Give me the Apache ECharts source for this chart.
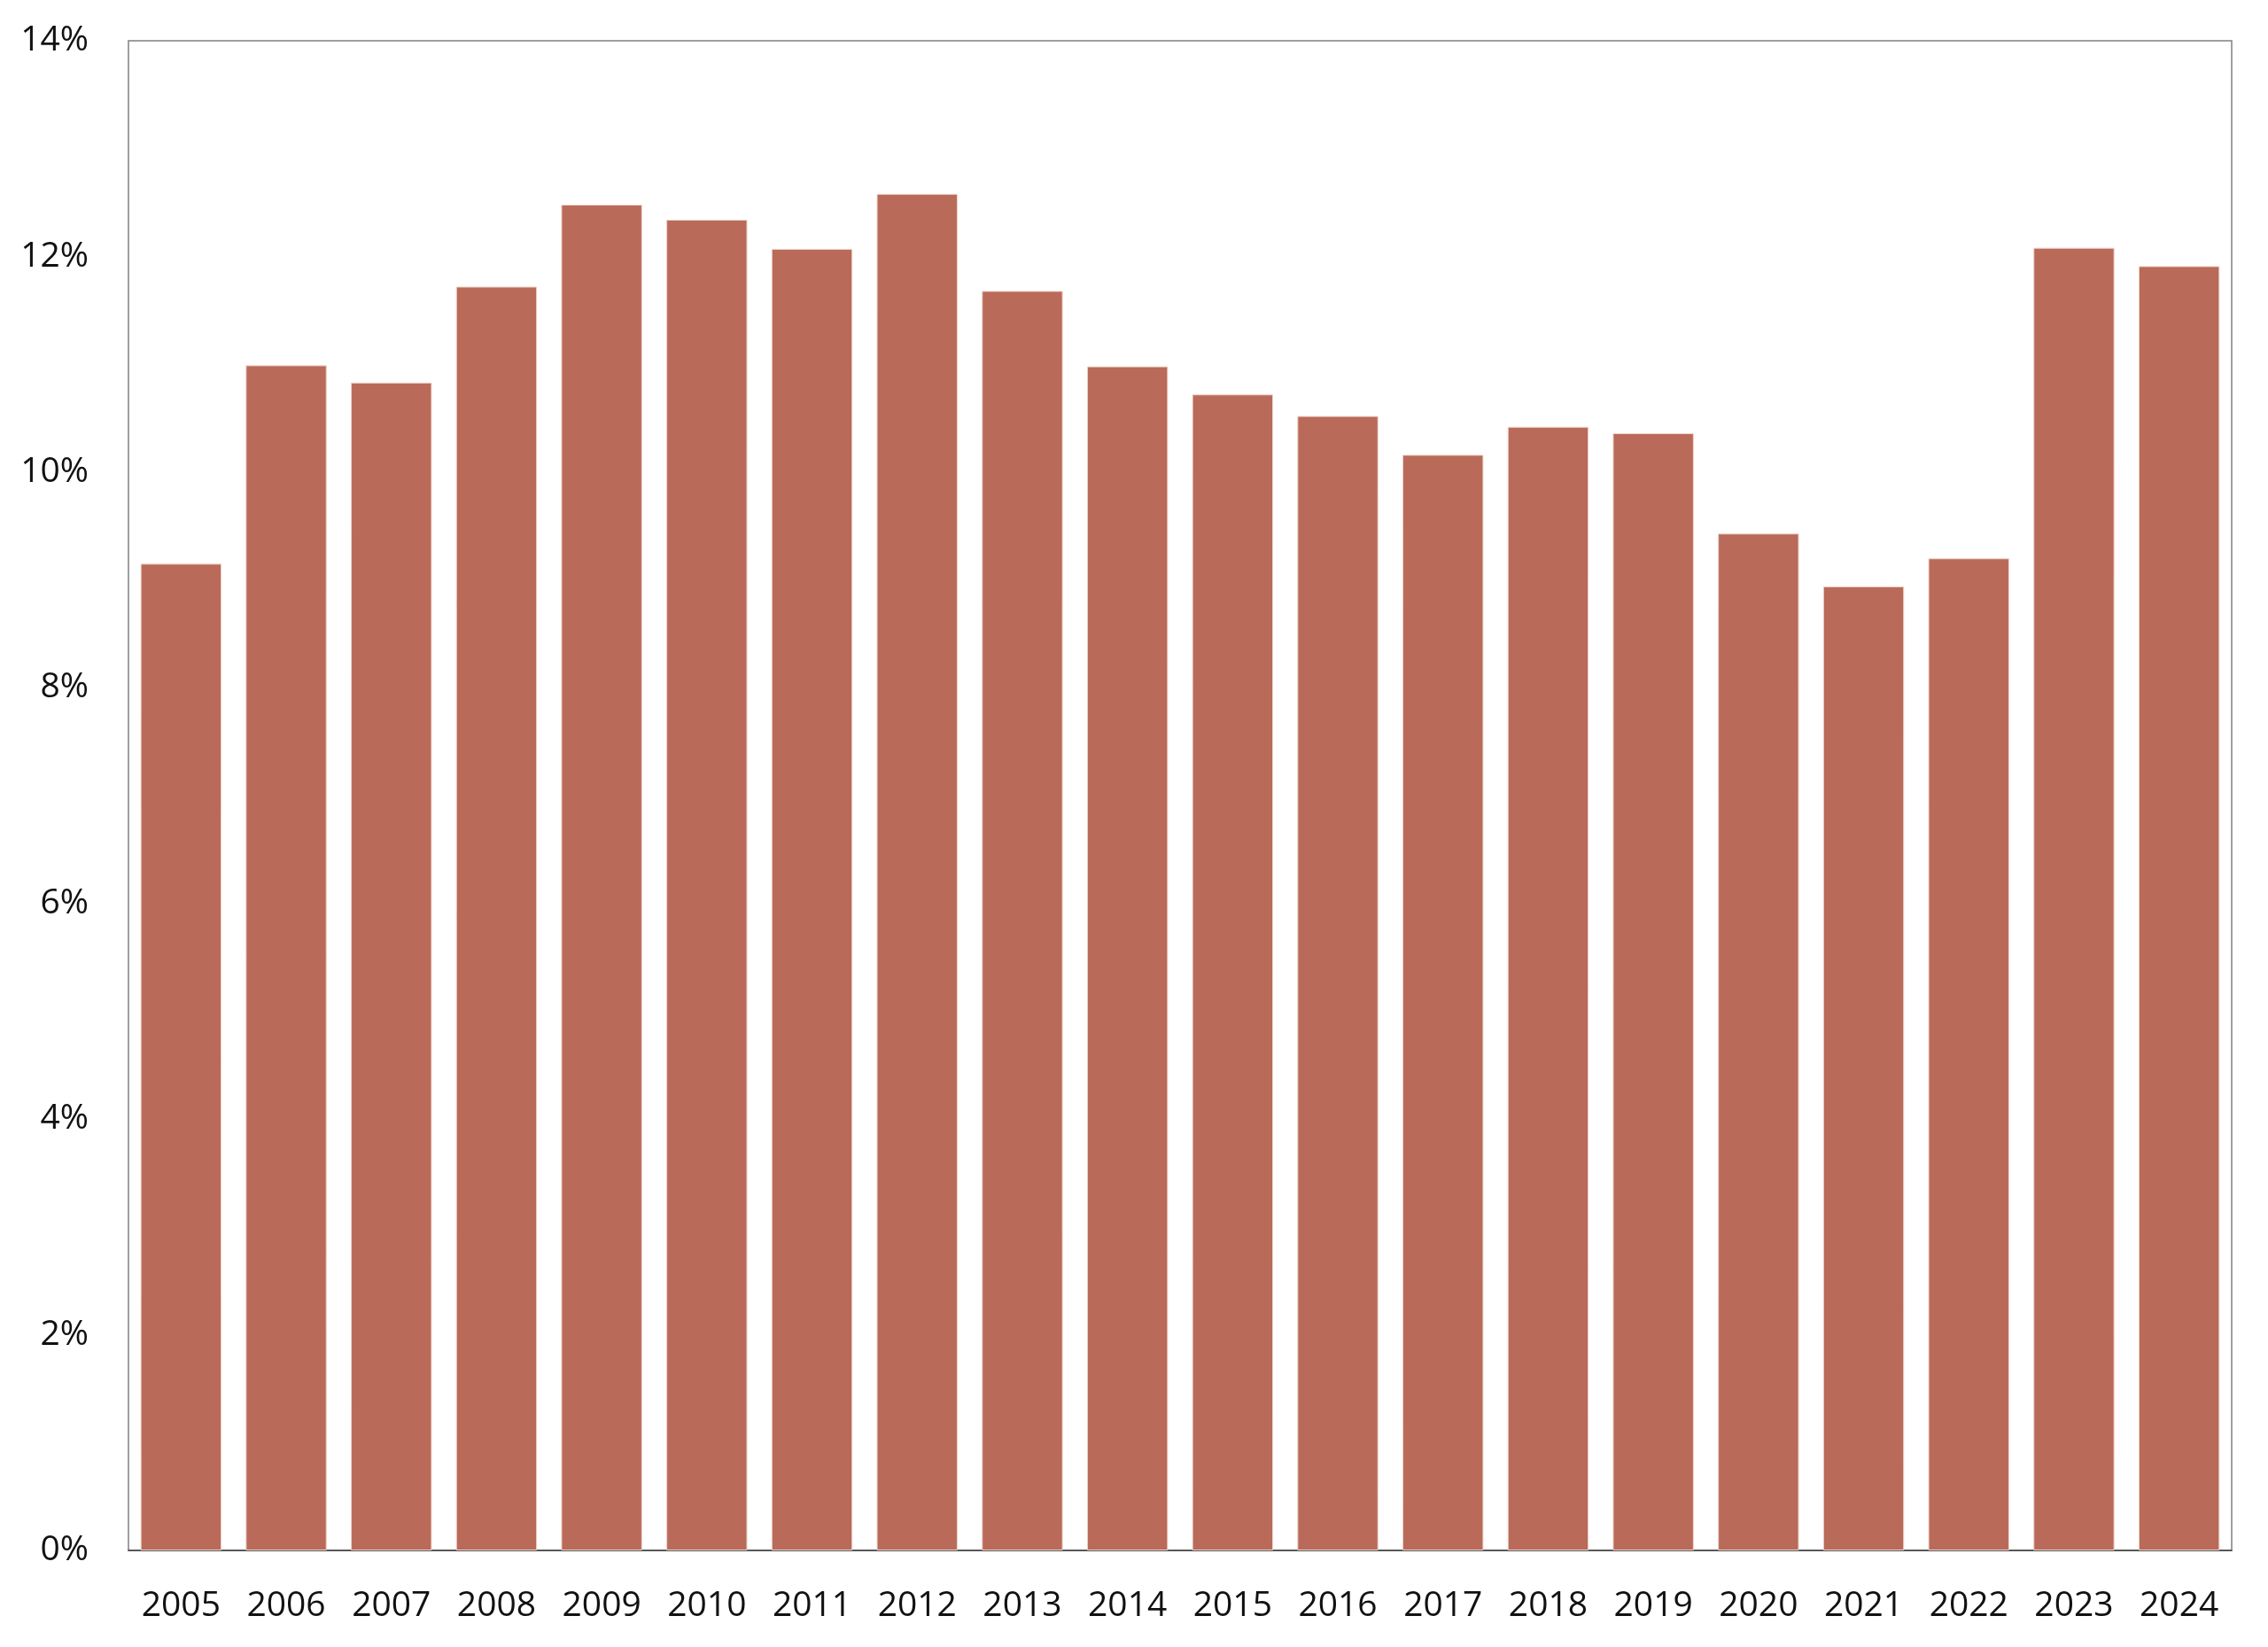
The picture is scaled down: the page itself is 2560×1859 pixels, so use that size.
<!DOCTYPE html>
<html>
<head>
<meta charset="utf-8">
<script src="https://cdn.jsdelivr.net/npm/echarts@6/dist/echarts.min.js"></script>
<style>
html,body{margin:0;padding:0;background:#fff;}
#chart{width:2560px;height:1859px;}
</style>
</head>
<body>
<div id="chart"></div>
<script>
const years = ['2005','2006','2007','2008','2009','2010','2011','2012','2013','2014','2015','2016','2017','2018','2019','2020','2021','2022','2023','2024'];
const values = [9.15, 10.99, 10.83, 11.72, 12.48, 12.34, 12.07, 12.58, 11.68, 10.98, 10.72, 10.52, 10.16, 10.42, 10.36, 9.43, 8.94, 9.20, 12.08, 11.91];
const yTicks = [0, 2, 4, 6, 8, 10, 12, 14];

const chart = echarts.init(document.getElementById('chart'));
chart.setOption({
  backgroundColor: '#ffffff',
  animation: false,
  grid: {
    left: 145, right: 41, top: 46, bottom: 109,
    show: true, borderColor: '#808080', borderWidth: 1.5, backgroundColor: 'transparent'
  },
  xAxis: {
    type: 'category',
    data: years,
    axisLine: { show: true, lineStyle: { color: '#404040', width: 1.5 } },
    axisTick: { show: false },
    axisLabel: { color: '#111', fontSize: 39, fontFamily: 'Open Sans', margin: 43 }
  },
  yAxis: {
    type: 'value',
    min: yTicks[0], max: yTicks[yTicks.length - 1], interval: 2,
    axisLine: { show: false },
    axisTick: { show: false },
    splitLine: { show: false },
    axisLabel: { color: '#111', fontSize: 39, fontFamily: 'Open Sans', margin: 45, padding: [4, 0, 0, 0], formatter: v => v + '%' }
  },
  series: [{
    type: 'bar',
    data: values,
    barCategoryGap: '23%',
    itemStyle: { color: '#B96A58', borderColor: '#EFD3CB', borderWidth: 1 }
  }]
});
</script>
</body>
</html>
